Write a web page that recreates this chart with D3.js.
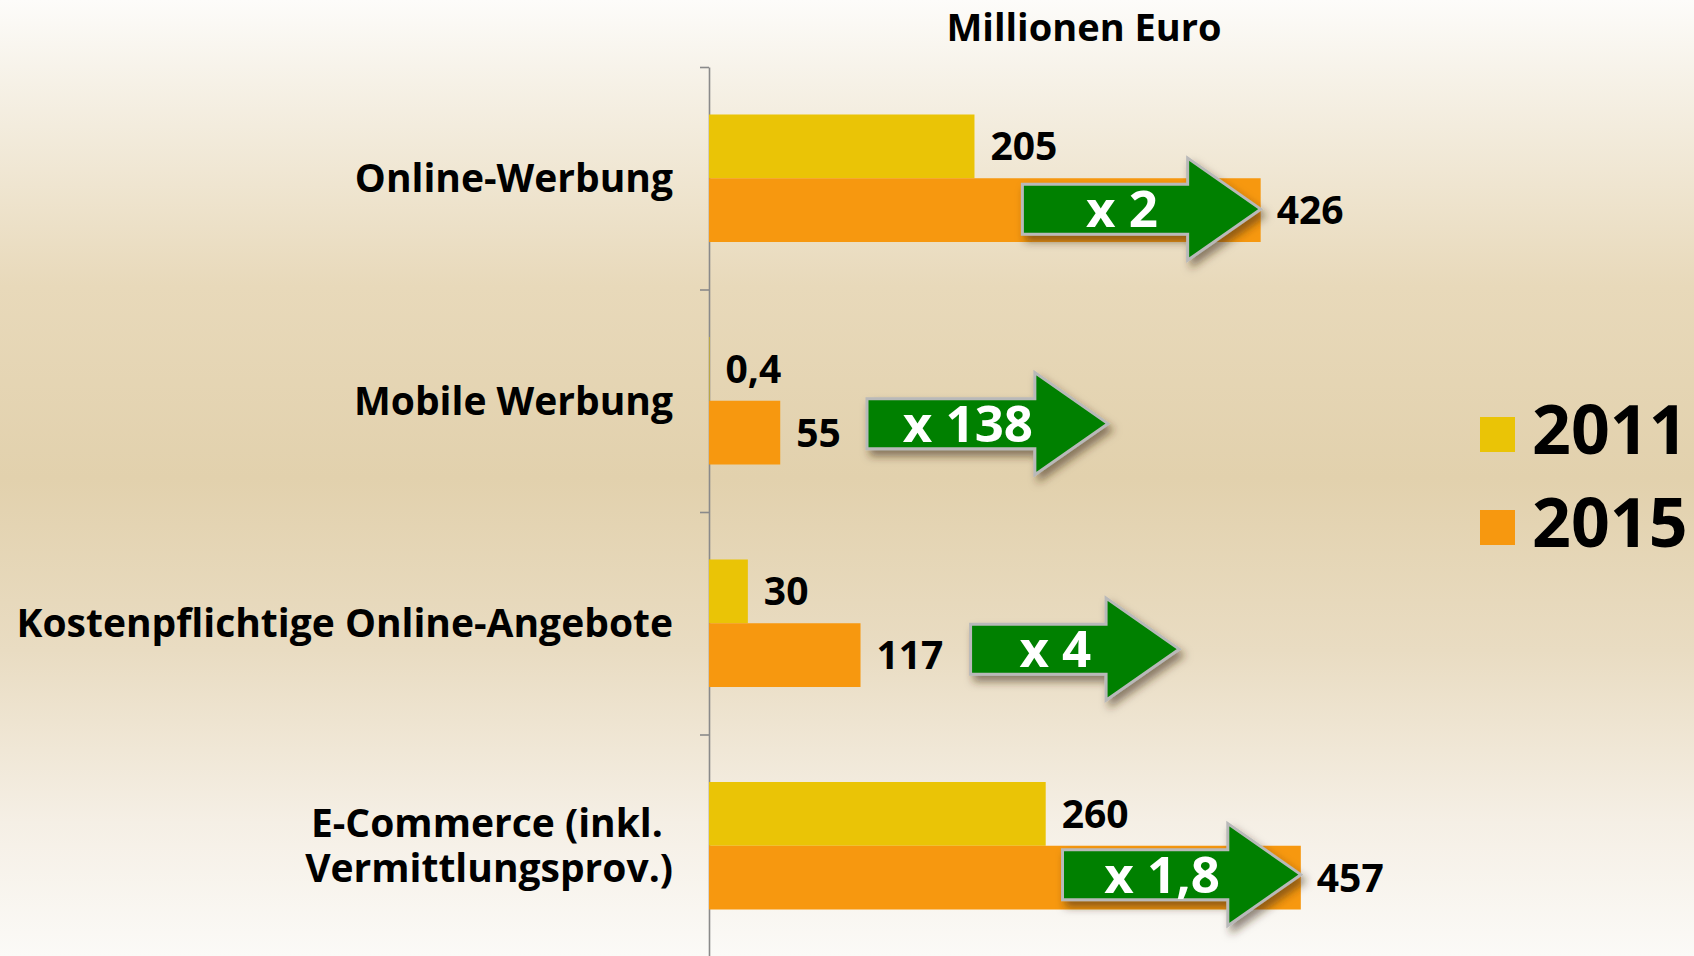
<!DOCTYPE html>
<html>
<head>
<meta charset="utf-8">
<script src="https://cdn.jsdelivr.net/npm/d3@7/dist/d3.min.js"></script>
<style>
  html, body { margin: 0; padding: 0; }
  body { width: 1694px; height: 956px; overflow: hidden; }
  svg { display: block; font-family: "Open Sans", "Noto Sans", sans-serif; font-weight: bold; }
</style>
</head>
<body>
<svg id="chart" width="1694" height="956"></svg>
<script>
// ---- data ----
const categories = [
  ["Online-Werbung"],
  ["Mobile Werbung"],
  ["Kostenpflichtige Online-Angebote"],
  ["E-Commerce (inkl.\u00a0", "Vermittlungsprov.)"]
];
const years = ["2011", "2015"];
const values2011 = [205, 0.4, 30, 260];
const values2015 = [426, 55, 117, 457];
const labels2011 = ["205", "0,4", "30", "260"];
const labels2015 = ["426", "55", "117", "457"];
const growthLabels = ["x 2", "x 138", "x 4", "x 1,8"];
const arrowFrom = [242, 122, 202, 273];
const arrowTo = [426, 308, 363, 457];
const unitTitle = "Millionen Euro";

// ---- layout ----
const svg = d3.select("#chart");
const W = 1694, H = 956;
const x0 = 709;
const colors = { "2011": "#eac406", "2015": "#f7980f" };
const arrowDy = [-1, -9, -6, -3];

const defs = svg.append("defs");
const grad = defs.append("linearGradient").attr("id", "bg")
  .attr("x1", 0).attr("y1", 0).attr("x2", 0).attr("y2", 1);
[[0, "#fdfcfa"], [0.07, "#f7f3ea"], [0.3, "#e8d9ba"], [0.5, "#e2d1ad"],
 [0.68, "#e9dcc2"], [0.86, "#f5efe5"], [1, "#fbfaf7"]]
  .forEach(([o, c]) => grad.append("stop").attr("offset", o).attr("stop-color", c));
const shadow = defs.append("filter").attr("id", "shadow")
  .attr("x", "-20%").attr("y", "-30%").attr("width", "150%").attr("height", "170%");
shadow.append("feDropShadow").attr("dx", 4).attr("dy", 6).attr("stdDeviation", 4)
  .attr("flood-color", "#3a2a10").attr("flood-opacity", 0.55);

svg.append("rect").attr("width", W).attr("height", H).attr("fill", "url(#bg)");

const x = d3.scaleLinear().domain([0, 457]).range([x0, x0 + 457 * 1.295]);
const y = d3.scaleBand().domain(d3.range(categories.length)).range([67, 957]).paddingInner(0).paddingOuter(0);
const ySub = d3.scaleBand().domain(years).range([0, y.bandwidth()]).paddingInner(0).paddingOuter(0.745);

// axis with ticks at band boundaries
const yEdge = d3.scaleLinear().domain([0, categories.length]).range([67, 957]);
const axis = svg.append("g").attr("transform", `translate(${x0},0)`)
  .call(d3.axisLeft(yEdge).tickValues(d3.range(categories.length + 1)).tickSize(9).tickSizeOuter(0).tickFormat(""));
axis.selectAll("path, line").attr("stroke", "#8a8a8a").attr("stroke-width", 1.6);

// category labels
const capH = 0.714;
const catSize = 39;
categories.forEach((lines, i) => {
  const cy = y(i) + y.bandwidth() / 2;
  const lh = 45;
  const t = svg.append("text").attr("text-anchor", "end").attr("font-size", catSize).attr("fill", "#000");
  lines.forEach((ln, j) => {
    const base = cy + (j - (lines.length - 1) / 2) * lh + catSize * capH / 2;
    t.append("tspan").attr("x", 673).attr("y", base).text(ln);
  });
});

// bars
const rows = categories.map((c, i) => ({ i, v: { "2011": values2011[i], "2015": values2015[i] },
  l: { "2011": labels2011[i], "2015": labels2015[i] } }));
const g = svg.append("g");
rows.forEach(r => {
  years.forEach(yr => {
    if (r.v[yr] <= 0) return;
    g.append("rect")
      .attr("x", x(0)).attr("y", y(r.i) + ySub(yr))
      .attr("width", x(r.v[yr]) - x(0)).attr("height", ySub.bandwidth())
      .attr("fill", colors[yr]);
  });
});

// value labels
const valSize = 39;
rows.forEach(r => {
  years.forEach(yr => {
    g.append("text")
      .attr("x", x(r.v[yr]) + 16)
      .attr("y", y(r.i) + ySub(yr) + ySub.bandwidth() / 2 + valSize * capH / 2)
      .attr("font-size", valSize).attr("fill", "#000")
      .text(r.l[yr]);
  });
});

// growth arrows
const bodyH = 50, headH = 102, headL = 73, arrowSize = 51;
rows.forEach(r => {
  const cy = y(r.i) + ySub("2015") + ySub.bandwidth() / 2 + arrowDy[r.i];
  const a = x(arrowFrom[r.i]), b = x(arrowTo[r.i]);
  const hb = b - headL;
  const pts = [[a, cy - bodyH / 2], [hb, cy - bodyH / 2], [hb, cy - headH / 2], [b, cy],
    [hb, cy + headH / 2], [hb, cy + bodyH / 2], [a, cy + bodyH / 2]];
  svg.append("path")
    .attr("d", d3.line()(pts) + "Z")
    .attr("fill", "#008000").attr("stroke", "#b9b9b9").attr("stroke-width", 3)
    .attr("stroke-linejoin", "miter")
    .attr("filter", "url(#shadow)");
  svg.append("text")
    .attr("x", (a + hb) / 2 + 17).attr("y", cy + arrowSize * capH / 2)
    .attr("text-anchor", "middle").attr("font-size", arrowSize).attr("fill", "#fff")
    .text(growthLabels[r.i]);
});

// title
svg.append("text").attr("x", 1084).attr("y", 41).attr("text-anchor", "middle")
  .attr("font-size", 38).attr("fill", "#000").text(unitTitle);

// legend
const leg = svg.append("g");
years.forEach((yr, k) => {
  const top = 417 + k * 93;
  leg.append("rect").attr("x", 1480).attr("y", top).attr("width", 35).attr("height", 35).attr("fill", colors[yr]);
  leg.append("text").attr("x", 1532).attr("y", top + 37).attr("font-size", 68).attr("fill", "#000").text(yr);
});
</script>
</body>
</html>
